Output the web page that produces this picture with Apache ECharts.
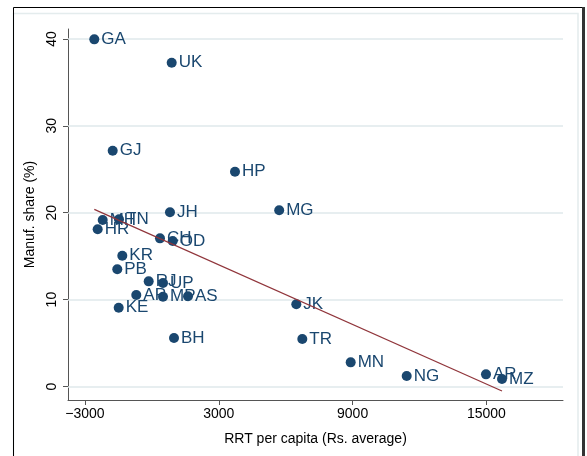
<!DOCTYPE html>
<html>
<head>
<meta charset="utf-8">
<script src="https://cdn.jsdelivr.net/npm/echarts@6/dist/echarts.min.js"></script>
<style>html,body{margin:0;padding:0;background:#fff}#c{width:587px;height:456px}</style>
</head>
<body>
<div id="c"></div>
<script>
var states = ['GA','UK','GJ','HP','MG','JH','MH','TN','HR','CH','OD','KR','PB','RJ','UP','AP','MP','AS','KE','BH','JK','TR','MN','NG','AR','MZ'];
var rrt    = [-2583, 888, -1758, 3726, 5708, 811, -2206, -1475, -2431, 363, 932, -1327, -1552, -144, 498, -700, 498, 1619, -1489, 991, 6475, 6744, 8914, 11425, 14981, 15698];
var manuf  = [39.95, 37.26, 27.13, 24.72, 20.29, 20.05, 19.16, 19.24, 18.09, 17.05, 16.74, 15.05, 13.49, 12.10, 11.91, 10.53, 10.33, 10.38, 9.07, 5.58, 9.46, 5.47, 2.78, 1.21, 1.40, 0.86];
var fitX = [-2583, 15698];
var fitY = [20.39, -0.52];
var xTicks = [-3000, 3000, 9000, 15000];
var yTicks = [0, 10, 20, 30, 40];

var navy = '#1a476f';
var font = 'Liberation Sans, Arial, Helvetica, sans-serif';
var pts = states.map(function(s, i){ return {name: s, value: [rrt[i], manuf[i]]}; });
var fit = fitX.map(function(x, i){ return [x, fitY[i]]; });

var chart = echarts.init(document.getElementById('c'), null, {renderer: 'canvas'});
chart.setOption({
  animation: false,
  backgroundColor: '#fff',
  grid: {left: 68, right: 24, top: 29, bottom: 56, containLabel: false},
  xAxis: {
    type: 'value', min: -3762, max: 18434,
    name: 'RRT per capita (Rs. average)', nameLocation: 'middle', nameGap: 32,
    nameTextStyle: {color: '#000', fontSize: 14, fontFamily: font},
    axisLine: {show: true, onZero: false, lineStyle: {color: '#555', width: 1}},
    axisTick: {show: true, length: 5, customValues: xTicks, lineStyle: {color: '#555'}},
    axisLabel: {customValues: xTicks, color: '#000', fontSize: 14, fontFamily: font, margin: 7,
      formatter: function(v){ return v < 0 ? '\u2212' + Math.abs(v) : String(v); }},
    splitLine: {show: false}
  },
  yAxis: {
    type: 'value', min: -1.55, max: 41.14,
    name: 'Manuf. share (%)', nameLocation: 'middle', nameGap: 25, nameRotate: 90,
    nameTextStyle: {color: '#000', fontSize: 14, fontFamily: font},
    axisLine: {show: true, onZero: false, lineStyle: {color: '#555', width: 1}},
    axisTick: {show: true, length: 5, customValues: yTicks, lineStyle: {color: '#555'}},
    axisLabel: {customValues: yTicks, color: '#000', fontSize: 14, fontFamily: font, rotate: 90, margin: 9},
    splitLine: {show: false}
  },
  graphic: [
    {type: 'rect', silent: true, z: -10, shape: {x: 13.5, y: 13.5, width: 564.5, height: 460}, style: {fill: null, stroke: '#e4eced', lineWidth: 1.5}},
    {type: 'rect', silent: true, z: 100, shape: {x: 13.5, y: 7.5, width: 569, height: 460}, style: {fill: null, stroke: '#000', lineWidth: 1}},
    {type: 'line', silent: true, z: 100, shape: {x1: 583.5, y1: 7, x2: 583.5, y2: 470}, style: {stroke: '#333', lineWidth: 3}}
  ],
  series: [
    {
      type: 'line', data: yTicks.map(function(v){ return [-3762, v]; }), showSymbol: false, silent: true,
      lineStyle: {width: 0, opacity: 0},
      markLine: {silent: true, z: 1, symbol: 'none', label: {show: false},
        lineStyle: {color: '#dfe9eb', type: 'solid', width: 1.5},
        data: yTicks.map(function(v){ return {yAxis: v}; })},
      z: 1
    },
    {
      type: 'scatter', data: pts, symbol: 'circle', symbolSize: 10,
      itemStyle: {color: navy, opacity: 1},
      label: {show: true, position: 'right', distance: 2, formatter: '{b}', color: navy, fontSize: 17, fontFamily: font},
      z: 3
    },
    {
      type: 'line', data: fit, showSymbol: false, symbol: 'none',
      lineStyle: {color: '#90353b', width: 1.2}, z: 4
    }
  ]
});
</script>
</body>
</html>
